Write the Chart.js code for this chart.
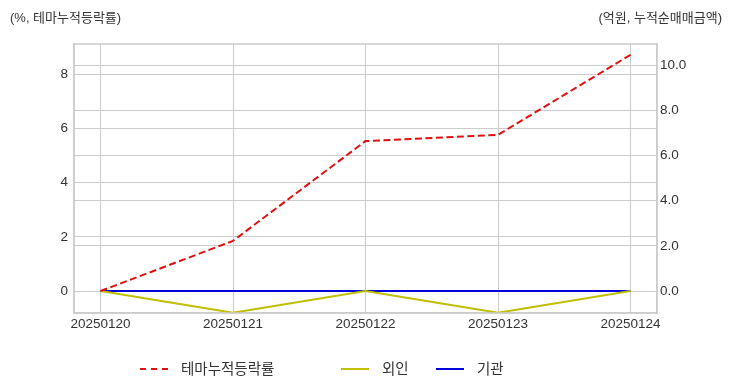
<!DOCTYPE html>
<html>
<head>
<meta charset="utf-8">
<script src="https://cdn.jsdelivr.net/npm/chart.js@4/dist/chart.umd.min.js"></script>
<style>
  body { margin: 0; background: #fff; }
  #wrap { position: relative; width: 732px; height: 392px; }
  .unit { position: absolute; top: 7px; font: 13px "Liberation Sans", "Noto Sans CJK KR", sans-serif; color: #333; }
  #legend { position: absolute; top: 359px; left: 0; width: 732px; height: 20px; font: 14.5px "Liberation Sans", "Noto Sans CJK KR", sans-serif; color: #333; }
  .item { position: absolute; top: 0; height: 20px; line-height: 20px; white-space: nowrap; }
  .swatch { display: inline-block; width: 28px; height: 0; vertical-align: middle; margin-right: 13px; position: relative; top: -1px; }
</style>
</head>
<body>
<div id="wrap">
  <canvas id="myChart" width="732" height="392"></canvas>
  <div class="unit" style="left:10px">(%, 테마누적등락률)</div>
  <div class="unit" style="right:10px">(억원, 누적순매매금액)</div>
  <div id="legend"></div>
</div>
<script>
let dates = ['20250120', '20250121', '20250122', '20250123', '20250124'];
let themeRate = [0, 1.85, 5.53, 5.76, 8.71];
let foreign = [0, -0.96, 0, -0.96, 0];
let institution = [0, 0, 0, 0, 0];

let fontFamily = '"Liberation Sans", "Noto Sans CJK KR", sans-serif';
Chart.defaults.font.family = fontFamily;
Chart.defaults.color = '#333';

// frame round the plot area
let frame = {
    id: 'frame',
    afterDraw(chart) {
        let a = chart.chartArea, ctx = chart.ctx;
        ctx.save();
        ctx.strokeStyle = '#cccccc';
        ctx.lineWidth = 1.5;
        ctx.strokeRect(a.left, a.top, a.right - a.left, a.bottom - a.top);
        ctx.restore();
    }
};

let ctx = document.getElementById('myChart').getContext('2d');

let chart = new Chart(ctx, {
    type: 'line',
    data: {
        datasets: [{
            label: '테마누적등락률',
            data: themeRate.map((v, i) => ({x: i, y: v})),
            borderColor: '#e01010',
            borderDash: [7, 3.5],
            borderWidth: 2,
            yAxisID: 'y'
        }, {
            label: '외인',
            data: foreign.map((v, i) => ({x: i, y: v})),
            borderColor: '#bfbf00',
            borderWidth: 2,
            yAxisID: 'y1'
        }, {
            label: '기관',
            data: institution.map((v, i) => ({x: i, y: v})),
            borderColor: '#0000dd',
            borderWidth: 2,
            yAxisID: 'y1'
        }]
    },
    options: {
        responsive: false,
        animation: false,
        elements: { point: { radius: 0 }, line: { tension: 0 } },
        layout: { padding: { top: 44, bottom: 54 } },
        plugins: {
            tooltip: { enabled: false },
            legend: { display: false }
        },
        scales: {
            x: {
                type: 'linear',
                min: -0.2,
                max: 4.2,
                afterFit(s) { s.height = 25; },
                grid: { color: '#cccccc', drawTicks: false },
                border: { color: '#cccccc', width: 1.5 },
                ticks: {
                    stepSize: 1,
                    includeBounds: false,
                    padding: 3,
                    maxRotation: 0,
                    font: { size: 13.5 },
                    callback: v => dates[v] || ''
                }
            },
            y: {
                position: 'left',
                min: -0.81,
                max: 9.11,
                afterFit(s) { s.width = 74; },
                grid: { color: '#cccccc', drawTicks: false },
                border: { color: '#cccccc', width: 1.5 },
                ticks: { stepSize: 2, includeBounds: false, padding: 6, font: { size: 13.5 } }
            },
            y1: {
                position: 'right',
                min: -0.97,
                max: 10.93,
                afterFit(s) { s.width = 75; },
                grid: { color: '#cccccc', drawTicks: false },
                border: { color: '#cccccc', width: 1.5 },
                ticks: {
                    stepSize: 2,
                    includeBounds: false,
                    padding: 3,
                    font: { size: 13.5 },
                    callback: v => v.toFixed(1)
                }
            }
        }
    },
    plugins: [frame]
});

// legend laid out like the original (three columns)
let legendX = [140, 341, 436];
let legend = document.getElementById('legend');
chart.data.datasets.forEach((ds, i) => {
    let item = document.createElement('div');
    item.className = 'item';
    item.style.left = legendX[i] + 'px';
    let sw = document.createElement('span');
    sw.className = 'swatch';
    sw.style.borderTop = '2px ' + (ds.borderDash ? 'dashed ' : 'solid ') + ds.borderColor;
    item.appendChild(sw);
    item.appendChild(document.createTextNode(ds.label));
    legend.appendChild(item);
});
</script>
</body>
</html>
